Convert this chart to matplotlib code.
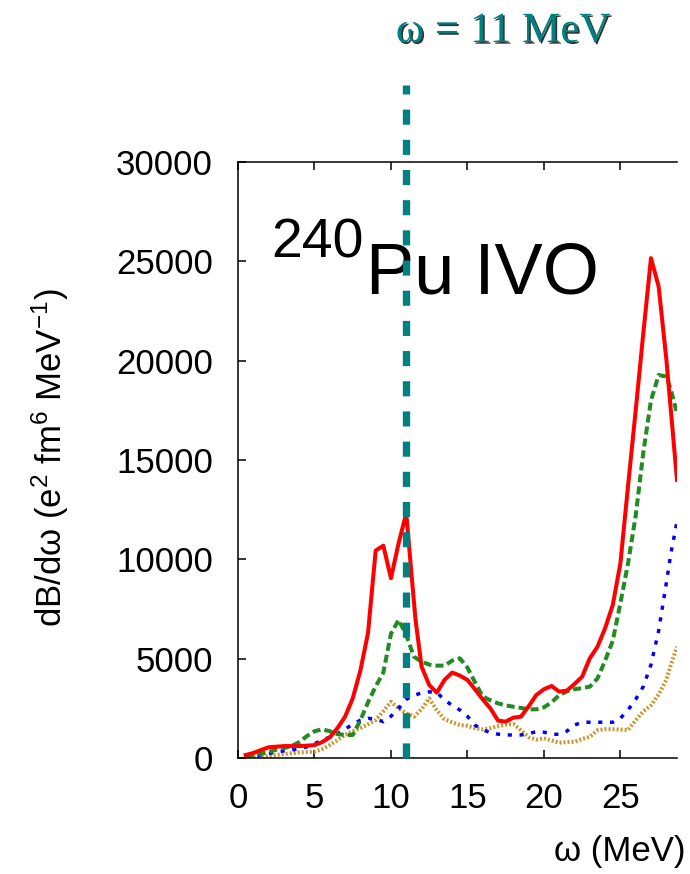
import numpy as np
import matplotlib.pyplot as plt
import matplotlib.patheffects as pe

plt.rcParams['font.family'] = ['Liberation Sans', 'DejaVu Sans']
plt.rcParams['mathtext.fontset'] = 'custom'
plt.rcParams['mathtext.rm'] = 'Liberation Sans'
plt.rcParams['mathtext.it'] = 'Liberation Sans:italic'

# red solid curve
omega_red = [0.5, 1.0, 1.5, 2.0, 3.0, 4.0, 4.5, 5.0, 5.5, 6.0, 6.5, 7.0, 7.5, 8.0,
             8.5, 9.0, 9.5, 10.0, 10.5, 11.0, 11.3, 11.6, 12.0, 12.5, 13.0, 13.5,
             14.0, 14.5, 15.0, 15.5, 16.0, 16.5, 17.0, 17.5, 18.0, 18.5, 19.0,
             19.5, 20.0, 20.5, 21.0, 21.5, 22.0, 22.5, 23.0, 23.5, 24.0, 24.5,
             25.0, 25.5, 26.0, 26.5, 27.0, 27.5, 28.0, 28.7]
dbdw_red = [150, 250, 400, 540, 600, 600, 620, 650, 800, 1040, 1500, 2080, 3000,
            4400, 6290, 10440, 10690, 9050, 10810, 12320, 9630, 7000, 4600, 3675,
            3290, 3930, 4300, 4150, 3930, 3450, 2950, 2500, 1880, 1830, 2030, 2080,
            2600, 3170, 3460, 3625, 3340, 3390, 3725, 4095, 5020, 5600, 6530, 7700,
            9800, 13700, 17500, 21400, 25160, 23730, 20100, 14000]

# green dashed curve
omega_green = [0.5, 1.0, 1.5, 2.0, 2.5, 3.0, 3.5, 4.0, 4.5, 5.0, 5.5, 6.0, 6.5, 7.0,
               7.5, 8.0, 8.5, 9.0, 9.5, 10.0, 10.5, 11.0, 11.5, 12.0, 12.5, 13.0,
               13.5, 14.0, 14.5, 15.0, 15.5, 16.0, 16.5, 17.0, 17.5, 18.0, 18.5,
               19.0, 19.5, 20.0, 20.5, 21.0, 21.5, 22.0, 22.5, 23.0, 23.5, 24.0,
               24.5, 25.0, 25.5, 26.0, 26.5, 27.0, 27.5, 28.0, 28.3, 28.7]
dbdw_green = [100, 150, 220, 300, 420, 500, 600, 800, 1100, 1350, 1440, 1350, 1200,
              1160, 1160, 1900, 2800, 3600, 4300, 6250, 6950, 6190, 5100, 4850,
              4700, 4650, 4650, 4900, 5020, 4550, 3800, 3100, 2900, 2750, 2650,
              2580, 2520, 2450, 2450, 2550, 2800, 3170, 3350, 3460, 3520, 3590,
              4000, 4900, 5900, 7800, 9800, 12200, 15400, 18000, 19280, 19200,
              18530, 17350]

# blue dotted curve
omega_blue = omega_green
dbdw_blue = [50, 100, 150, 220, 300, 360, 400, 480, 560, 720, 900, 1050, 1220, 1450,
             1700, 1900, 2000, 1950, 1830, 2100, 2500, 2950, 3150, 3280, 3330, 3300,
             2920, 2650, 2420, 2100, 1650, 1420, 1280, 1200, 1160, 1160, 1160, 1220,
             1330, 1300, 1200, 1190, 1350, 1660, 1800, 1800, 1800, 1800, 1800, 2000,
             2420, 2950, 3600, 4700, 6400, 8800, 10300, 11900]

# gold fine dotted curve
omega_gold = omega_green
dbdw_gold = [0, 30, 60, 100, 150, 200, 240, 280, 300, 320, 450, 650, 900, 1160,
             1350, 1500, 1700, 1910, 2350, 2830, 2500, 2250, 2080, 2450, 3000, 2400,
             1950, 1800, 1660, 1620, 1500, 1440, 1500, 1600, 1680, 1710, 1400, 1050,
             930, 990, 880, 770, 800, 820, 950, 1070, 1400, 1450, 1450, 1430, 1410,
             1900, 2350, 2650, 3200, 3930, 4700, 5600]

omega_mark = 11
xticks = [0, 5, 10, 15, 20, 25]
yticks = [0, 5000, 10000, 15000, 20000, 25000, 30000]

fig = plt.figure(figsize=(6.9, 8.74), dpi=100)
ax = fig.add_axes([238/690, 116/874, 439/690, 596/874])

ax.plot(omega_gold, dbdw_gold, color='#c8962e', lw=2.9, dashes=(0.5, 0.5))
ax.plot(omega_blue, dbdw_blue, color='#0000ff', lw=2.5, dashes=(1.2, 2.2))
ax.plot(omega_green, dbdw_green, color='#228b22', lw=2.9, dashes=(2.0, 1.0))
ax.plot(omega_red, dbdw_red, color='#ff0000', lw=2.9)

# vertical line at omega = 11 MeV, goes above the frame
ax.plot([omega_mark, omega_mark], [0, 33900], color='#008080', lw=5.3,
        dashes=(2.05, 2.05), clip_on=False, zorder=5)

ax.set_xlim(0, 28.7)
ax.set_ylim(0, 30000)
ax.set_xticks(xticks)
ax.set_yticks(yticks)
ax.tick_params(direction='in', length=6, width=1.1, labelsize=25, top=True,
               right=False)
ax.tick_params(axis='x', pad=17)
ax.tick_params(axis='y', pad=18)
ax.spines['right'].set_visible(False)
for s in ['left', 'top', 'bottom']:
    ax.spines[s].set_linewidth(1.1)

ax.set_xlabel('ω (MeV)', fontsize=25, ha='right', va='center')
ax.xaxis.set_label_coords(1.0 + 8/439, -94/596)
ax.set_ylabel('dB/dω (e$^{2}$ fm$^{6}$ MeV$^{-1}$)', fontsize=25, va='center')
ax.yaxis.set_label_coords(-188/439, 300/596)

# nucleus label
ax.text(33/439, 501/596, '240', fontsize=40, ha='left', va='baseline',
        transform=ax.transAxes)
ax.text(128/439, 465/596, 'Pu IVO', fontsize=52, ha='left', va='baseline',
        transform=ax.transAxes)

fig.text(503/690, 1 - 42/874, 'ω = 11 MeV', fontsize=31, color='#008080',
         family='Liberation Serif', ha='center', va='baseline',
         path_effects=[pe.withSimplePatchShadow(offset=(1.2, -1.2),
                                                shadow_rgbFace='black', alpha=0.8)])

plt.savefig('out.png', dpi=100)
